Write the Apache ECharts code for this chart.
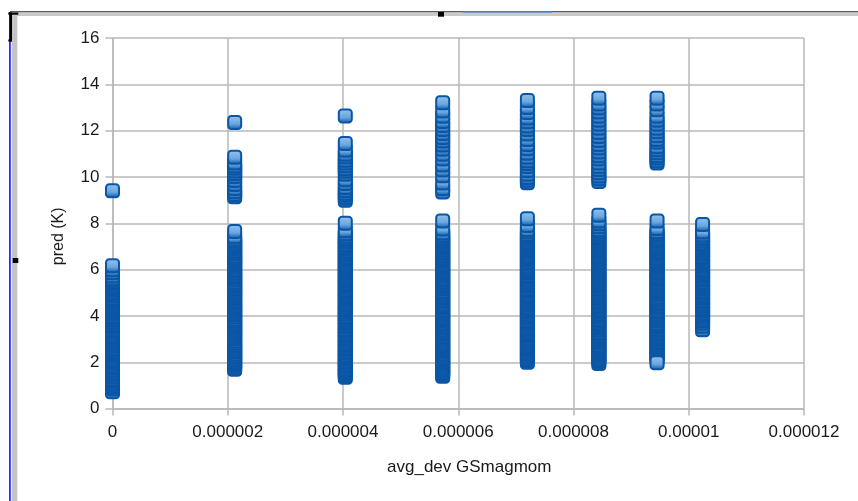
<!DOCTYPE html>
<html>
<head>
<meta charset="utf-8">
<script src="https://cdn.jsdelivr.net/npm/echarts@6/dist/echarts.min.js"></script>
<style>
html,body{margin:0;padding:0;background:#fff;}
#chart{width:858px;height:501px;}
</style>
</head>
<body>
<div id="chart"></div>
<script>
// x positions of the data columns (avg_dev GSmagmom)
var xColumns = [0, 2.12e-6, 4.04e-6, 5.73e-6, 7.20e-6, 8.44e-6, 9.45e-6, 10.24e-6];

// pred (K) values per column, listed in drawing order
var predCol0 = [0.73,0.86,0.95,1.02,1.11,1.19,1.26,1.35,1.44,1.50,1.58,1.67,1.75,1.82,1.91,2.00,2.06,2.14,2.23,2.31,2.38,2.47,2.55,2.62,2.71,2.79,2.86,2.95,3.04,3.10,3.18,3.27,3.35,3.42,3.51,3.59,3.66,3.75,3.84,3.90,3.98,4.07,4.15,4.22,4.31,4.39,4.46,4.55,4.64,4.70,4.78,4.87,4.95,5.02,5.11,5.19,5.26,5.35,5.44,5.52,5.61,5.72,5.86,6.00,6.17,9.41];
var predCol1 = [1.70,1.78,1.87,1.95,2.02,2.11,2.19,2.26,2.35,2.44,2.50,2.58,2.67,2.75,2.82,2.91,3.00,3.06,3.14,3.23,3.31,3.38,3.47,3.55,3.62,3.71,3.79,3.86,3.95,4.04,4.10,4.18,4.27,4.35,4.42,4.51,4.59,4.66,4.75,4.84,4.90,4.98,5.07,5.15,5.22,5.31,5.39,5.46,5.55,5.64,5.70,5.78,5.87,5.95,6.02,6.11,6.19,6.26,6.35,6.44,6.50,6.58,6.67,6.75,6.82,6.91,7.00,7.06,7.14,7.23,7.31,7.42,7.65,
  9.15,9.24,9.36,9.50,9.68,9.85,10.02,10.15,10.26,10.38,10.47,10.60,10.85,12.35];
var predCol2 = [1.35,1.43,1.51,1.60,1.68,1.75,1.84,1.92,2.00,2.07,2.16,2.24,2.31,2.40,2.48,2.56,2.63,2.72,2.80,2.87,2.96,3.04,3.12,3.19,3.28,3.36,3.43,3.52,3.60,3.68,3.75,3.84,3.92,3.99,4.08,4.16,4.24,4.31,4.40,4.48,4.55,4.64,4.72,4.80,4.87,4.96,5.04,5.11,5.20,5.28,5.36,5.43,5.52,5.60,5.67,5.76,5.84,5.92,5.99,6.08,6.16,6.23,6.32,6.40,6.48,6.55,6.64,6.72,6.79,6.88,6.96,7.04,7.11,7.20,7.28,7.35,7.44,7.55,7.68,8.00,
  9.00,9.10,9.21,9.30,9.42,9.55,9.72,9.88,10.12,10.25,10.36,10.48,10.60,10.72,10.86,10.98,11.15,11.45,12.63];
var predCol3 = [1.40,1.47,1.56,1.64,1.71,1.80,1.88,1.96,2.03,2.12,2.20,2.27,2.36,2.44,2.52,2.59,2.68,2.76,2.83,2.92,3.00,3.08,3.15,3.24,3.32,3.39,3.48,3.56,3.64,3.71,3.80,3.88,3.95,4.04,4.12,4.20,4.27,4.36,4.44,4.51,4.60,4.68,4.76,4.83,4.92,5.00,5.07,5.16,5.24,5.32,5.39,5.48,5.56,5.63,5.72,5.80,5.88,5.95,6.04,6.12,6.19,6.28,6.36,6.44,6.51,6.60,6.68,6.75,6.84,6.92,7.00,7.07,7.16,7.24,7.31,7.40,7.48,7.58,7.75,8.10,
  9.35,9.50,9.74,10.05,10.30,10.52,10.78,10.98,11.20,11.38,11.55,11.70,11.88,12.05,12.22,12.40,12.62,12.85,13.20];
var predCol4 = [2.00,2.08,2.15,2.24,2.32,2.39,2.48,2.56,2.64,2.71,2.80,2.88,2.95,3.04,3.12,3.20,3.27,3.36,3.44,3.51,3.60,3.68,3.76,3.83,3.92,4.00,4.07,4.16,4.24,4.32,4.39,4.48,4.56,4.63,4.72,4.80,4.88,4.95,5.04,5.12,5.19,5.28,5.36,5.44,5.51,5.60,5.68,5.75,5.84,5.92,6.00,6.07,6.16,6.24,6.31,6.40,6.48,6.56,6.63,6.72,6.80,6.87,6.96,7.04,7.12,7.19,7.28,7.36,7.43,7.52,7.62,7.72,7.90,8.20,
  9.75,9.86,9.98,10.12,10.28,10.45,10.58,10.70,10.85,11.02,11.22,11.40,11.62,11.85,12.05,12.20,12.38,12.55,12.78,13.00,13.30];
var predCol5 = [1.95,2.03,2.11,2.18,2.27,2.35,2.42,2.51,2.59,2.67,2.74,2.83,2.91,2.98,3.07,3.15,3.23,3.30,3.39,3.47,3.54,3.63,3.71,3.79,3.86,3.95,4.03,4.10,4.19,4.27,4.35,4.42,4.51,4.59,4.66,4.75,4.83,4.91,4.98,5.07,5.15,5.22,5.31,5.39,5.47,5.54,5.63,5.71,5.78,5.87,5.95,6.03,6.10,6.19,6.27,6.34,6.43,6.51,6.59,6.66,6.75,6.83,6.90,6.99,7.07,7.15,7.22,7.31,7.39,7.46,7.55,7.63,7.72,7.85,7.98,8.10,8.35,
  9.80,9.92,10.04,10.18,10.32,10.45,10.60,10.78,10.92,11.08,11.25,11.40,11.58,11.75,11.92,12.10,12.28,12.45,12.62,12.80,12.98,13.15,13.40];
var predCol6 = [2.10,2.18,2.26,2.33,2.42,2.50,2.57,2.66,2.74,2.82,2.89,2.98,3.06,3.13,3.22,3.30,3.38,3.45,3.54,3.62,3.69,3.78,3.86,3.94,4.01,4.10,4.18,4.25,4.34,4.42,4.50,4.57,4.66,4.74,4.81,4.90,4.98,5.06,5.13,5.22,5.30,5.37,5.46,5.54,5.62,5.69,5.78,5.86,5.93,6.02,6.10,6.18,6.25,6.34,6.42,6.49,6.58,6.66,6.74,6.81,6.90,6.98,7.05,7.14,7.22,7.30,7.37,7.46,7.55,7.64,7.78,8.10,1.98,
  10.60,10.70,10.82,10.92,11.05,11.18,11.30,11.50,11.62,11.78,11.95,12.10,12.28,12.45,12.62,12.90,13.15,13.40];
var predCol7 = [3.40,3.55,3.68,3.78,3.86,3.95,4.03,4.11,4.20,4.28,4.35,4.44,4.52,4.60,4.67,4.76,4.84,4.91,5.00,5.08,5.16,5.23,5.32,5.40,5.47,5.56,5.64,5.72,5.79,5.88,5.96,6.03,6.12,6.20,6.28,6.35,6.44,6.52,6.59,6.68,6.76,6.84,6.91,7.00,7.08,7.15,7.24,7.32,7.40,7.50,7.62,7.95];

var predColumns = [predCol0, predCol1, predCol2, predCol3, predCol4, predCol5, predCol6, predCol7];

var xTickLabels = ['0','0.000002','0.000004','0.000006','0.000008','0.00001','0.000012'];
var yTickLabels = ['0','2','4','6','8','10','12','14','16'];

var points = [];
predColumns.forEach(function (col, i) {
  col.forEach(function (v) { points.push([xColumns[i], v]); });
});

var FONT = 'Liberation Sans';
var GRID_COLOR = '#b8b8b8';

var chart = echarts.init(document.getElementById('chart'), null, {renderer: 'canvas'});
chart.setOption({
  animation: false,
  backgroundColor: '#ffffff',
  grid: {left: 112.5, right: 54, top: 38, bottom: 92.4, containLabel: false},
  xAxis: {
    type: 'value', min: 0, max: 0.000012, interval: 0.000002,
    name: 'avg_dev GSmagmom', nameLocation: 'middle', nameGap: 50,
    nameTextStyle: {fontFamily: FONT, fontSize: 17, color: '#1a1a1a', padding: [0, 0, 0, 22]},
    axisLine: {show: true, lineStyle: {color: GRID_COLOR, width: 1.5}},
    axisTick: {show: true, length: 7, lineStyle: {color: GRID_COLOR, width: 1.5}},
    axisLabel: {
      fontFamily: FONT, fontSize: 17, color: '#1a1a1a', margin: 15,
      formatter: function (v) { return xTickLabels[Math.round(v / 0.000002)]; }
    },
    splitLine: {show: true, lineStyle: {color: GRID_COLOR, width: 1.5}}
  },
  yAxis: {
    type: 'value', min: 0, max: 16, interval: 2,
    name: 'pred (K)', nameLocation: 'middle', nameGap: 46, nameRotate: 90,
    nameTextStyle: {fontFamily: FONT, fontSize: 16, color: '#1a1a1a', padding: [0, 26, 0, 0]},
    axisLine: {show: true, lineStyle: {color: GRID_COLOR, width: 1.5}},
    axisTick: {show: true, length: 7, lineStyle: {color: GRID_COLOR, width: 1.5}},
    axisLabel: {
      fontFamily: FONT, fontSize: 17, color: '#1a1a1a', margin: 13,
      formatter: function (v) { return yTickLabels[Math.round(v / 2)]; }
    },
    splitLine: {show: true, lineStyle: {color: GRID_COLOR, width: 1.5}}
  },
  series: [{
    type: 'scatter',
    name: 'pred (K)',
    data: points,
    symbol: 'roundRect',
    symbolSize: 13,
    itemStyle: {
      color: {
        type: 'linear', x: 0, y: 0, x2: 0, y2: 1,
        colorStops: [
          {offset: 0, color: '#94c5f0'},
          {offset: 0.6, color: '#6aa6de'},
          {offset: 0.85, color: '#2a72bd'},
          {offset: 1, color: '#0d5cac'}
        ]
      },
      borderColor: '#0a56a4',
      borderWidth: 2,
      opacity: 1
    },
    emphasis: {disabled: true},
    z: 3
  }],
  graphic: [
    {type: 'rect', silent: true, shape: {x: 10, y: 11, width: 848, height: 1.6}, style: {fill: '#5c5c5c'}, z: 100},
    {type: 'rect', silent: true, shape: {x: 12, y: 12.6, width: 846, height: 3.4}, style: {fill: '#c9c9c9'}, z: 100},
    {type: 'rect', silent: true, shape: {x: 463, y: 11, width: 89, height: 1.6}, style: {fill: '#2f7ed8'}, z: 101},
    {type: 'rect', silent: true, shape: {x: 9, y: 12, width: 1.8, height: 489}, style: {fill: '#2a2aff'}, z: 100},
    {type: 'rect', silent: true, shape: {x: 11.7, y: 16, width: 5.6, height: 485}, style: {fill: '#c4c4c4'}, z: 100},
    {type: 'rect', silent: true, shape: {x: 438, y: 12, width: 6, height: 4.7}, style: {fill: '#000000'}, z: 102},
    {type: 'rect', silent: true, shape: {x: 12.7, y: 258, width: 5.6, height: 5}, style: {fill: '#000000'}, z: 102},
    {type: 'rect', silent: true, shape: {x: 9.5, y: 12.5, width: 2.5, height: 29}, style: {fill: '#000000'}, z: 102},
    {type: 'rect', silent: true, shape: {x: 8.3, y: 12.5, width: 10, height: 2.2}, style: {fill: '#000000'}, z: 102},
    {type: 'rect', silent: true, shape: {x: 8.3, y: 39.5, width: 3.7, height: 2}, style: {fill: '#000000'}, z: 102}
  ]
});
</script>
</body>
</html>
